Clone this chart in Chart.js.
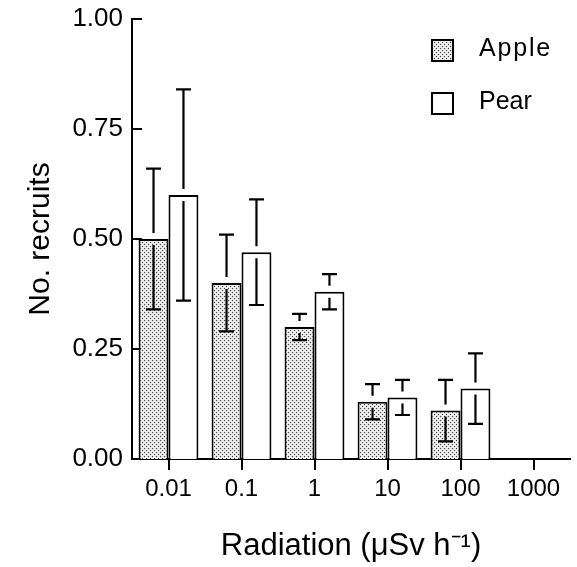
<!DOCTYPE html>
<html>
<head>
<meta charset="utf-8">
<script src="https://cdn.jsdelivr.net/npm/chart.js@4/dist/chart.umd.min.js"></script>
<style>
  html, body { margin: 0; padding: 0; background: #fff; }
  #wrap { width: 577px; height: 567px; }
</style>
</head>
<body>
<div id="wrap"><canvas id="c" width="577" height="567"></canvas></div>
<script>
// ---- data ----
const categories = ['0.01', '0.1', '1', '10', '100', '1000'];
const seriesNames = ['Apple', 'Pear'];
const appleValues = [0.50, 0.40, 0.30, 0.13, 0.11, null];
const appleUpper  = [0.66, 0.51, 0.33, 0.17, 0.18, null];
const appleLower  = [0.34, 0.29, 0.27, 0.09, 0.04, null];
const pearValues  = [0.60, 0.47, 0.38, 0.14, 0.16, null];
const pearUpper   = [0.84, 0.59, 0.42, 0.18, 0.24, null];
const pearLower   = [0.36, 0.35, 0.34, 0.10, 0.08, null];
const yTickValues = [0, 0.25, 0.5, 0.75, 1.0];

// ---- stipple pattern ----
function makeStipple() {
  const t = document.createElement('canvas');
  t.width = 4; t.height = 4;
  const g = t.getContext('2d');
  g.fillStyle = '#f8f8f8'; g.fillRect(0, 0, 4, 4);
  for (let y = 0; y < 4; y++) for (let x = 0; x < 4; x++) {
    if ((x + y) % 2 === 1) { g.fillStyle = '#dadada'; g.fillRect(x, y, 1, 1); }
  }
  g.fillStyle = '#444'; g.fillRect(0, 0, 1, 1); g.fillRect(2, 2, 1, 1);
  return g.createPattern(t, 'repeat');
}
const stipple = makeStipple();

const FONT = '"Liberation Sans", Arial, Helvetica, sans-serif';

// ---- plugins ----
const yInwardTicks = {
  id: 'yInwardTicks',
  beforeDatasetsDraw(chart) {
    const ctx = chart.ctx, ys = chart.scales.y, left = chart.chartArea.left;
    ctx.save();
    ctx.strokeStyle = '#000'; ctx.lineWidth = 2;
    ys.ticks.forEach(t => {
      const y = Math.round(ys.getPixelForValue(t.value));
      ctx.beginPath(); ctx.moveTo(left, y); ctx.lineTo(left + 10, y); ctx.stroke();
    });
    ctx.restore();
  }
};

const errorBars = {
  id: 'errorBars',
  afterDatasetsDraw(chart) {
    const ctx = chart.ctx, ys = chart.scales.y;
    const gap = 6, cap = 7.5;
    ctx.save();
    ctx.strokeStyle = '#000'; ctx.lineWidth = 2.2; ctx.lineCap = 'butt';
    chart.data.datasets.forEach((ds, i) => {
      const meta = chart.getDatasetMeta(i);
      meta.data.forEach((el, j) => {
        const v = ds.data[j];
        if (v == null) return;
        const x = el.x, yv = el.y;
        const yHi = ys.getPixelForValue(ds.errUpper[j]);
        const yLo = ys.getPixelForValue(ds.errLower[j]);
        ctx.beginPath();
        ctx.moveTo(x, yv - gap); ctx.lineTo(x, yHi);
        ctx.moveTo(x - cap, yHi); ctx.lineTo(x + cap, yHi);
        if (yLo > yv + gap) {
          ctx.moveTo(x, yv + gap); ctx.lineTo(x, yLo);
        }
        ctx.moveTo(x - cap, yLo); ctx.lineTo(x + cap, yLo);
        ctx.stroke();
      });
    });
    ctx.restore();
  }
};

const boxLegend = {
  id: 'boxLegend',
  afterDraw(chart) {
    const ctx = chart.ctx;
    ctx.save();
    chart.data.datasets.forEach((ds, i) => {
      const bx = 432, by = 40 + i * 53, s = 21;
      ctx.fillStyle = ds.backgroundColor;
      ctx.fillRect(bx, by, s, s);
      ctx.strokeStyle = '#000'; ctx.lineWidth = 2;
      ctx.strokeRect(bx, by, s, s);
      ctx.fillStyle = '#000';
      ctx.font = '25px ' + FONT;
      ctx.textBaseline = 'middle'; ctx.textAlign = 'left';
      if ('letterSpacing' in ctx) ctx.letterSpacing = i === 0 ? '1.8px' : '0px';
      ctx.fillText(ds.label, 479, by + s / 2 - 1.5);
    });
    ctx.restore();
  }
};

new Chart(document.getElementById('c'), {
  type: 'bar',
  data: {
    labels: categories,
    datasets: [
      { label: seriesNames[0], data: appleValues, errUpper: appleUpper, errLower: appleLower,
        backgroundColor: stipple, borderColor: '#000', borderWidth: 2 },
      { label: seriesNames[1], data: pearValues, errUpper: pearUpper, errLower: pearLower,
        backgroundColor: '#ffffff', borderColor: '#000', borderWidth: 2 }
    ]
  },
  options: {
    responsive: false,
    animation: false,
    devicePixelRatio: 1,
    layout: { padding: { top: 19, right: 7, left: 0, bottom: 0 } },
    datasets: { bar: { categoryPercentage: 0.82, barPercentage: 1.0 } },
    plugins: { legend: { display: false }, tooltip: { enabled: false } },
    scales: {
      x: {
        offset: true,
        grid: { display: true, drawOnChartArea: false, drawTicks: true, tickLength: 11,
                offset: false, color: '#000', lineWidth: 2 },
        border: { display: true, color: '#000', width: 2 },
        ticks: { color: '#000', font: { family: FONT, size: 24 }, padding: 5, maxRotation: 0 },
        title: { display: true, text: 'Radiation (μSv h⁻¹)', color: '#000',
                 font: { family: FONT, size: 31 }, padding: { top: 0, bottom: 2 } },
        afterFit(s) { s.height = 108; }
      },
      y: {
        min: 0, max: 1,
        afterBuildTicks(s) { s.ticks = yTickValues.map(v => ({ value: v })); },
        grid: { display: false, drawTicks: false },
        border: { display: true, color: '#000', width: 2 },
        ticks: { color: '#000', font: { family: FONT, size: 26, lineHeight: 0.7 }, padding: 9,
                 callback: v => Number(v).toFixed(2) },
        title: { display: true, text: 'No. recruits', color: '#000',
                 font: { family: FONT, size: 30 }, padding: { top: 23, bottom: 0 } },
        afterFit(s) { s.width = 132; }
      }
    }
  },
  plugins: [yInwardTicks, errorBars, boxLegend]
});
</script>
</body>
</html>
